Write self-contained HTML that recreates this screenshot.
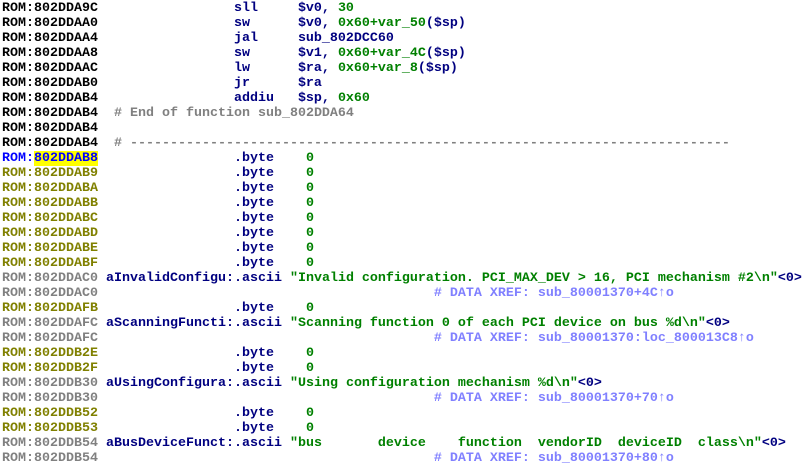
<!DOCTYPE html>
<html><head><meta charset="utf-8"><style>
html,body{margin:0;padding:0;background:#fff;width:806px;height:472px;overflow:hidden}
pre{margin:0;padding:1px 0 0 2px;font-family:"Liberation Mono","DejaVu Sans Mono",monospace;font-weight:bold;font-size:13.33px;line-height:15px;color:#000080;white-space:pre}
.k{color:#000}.b{color:#0000ff}.o{color:#808000}.g{color:#808080}.n{color:#008000}.c{color:#808080}.x{color:#8080ff}.h{background:#ffff00}
</style></head><body><pre><span class="k">ROM:802DDA9C</span>                 sll     $v0, <span class="n">30</span>
<span class="k">ROM:802DDAA0</span>                 sw      $v0, <span class="n">0x60+var_50</span>($sp)
<span class="k">ROM:802DDAA4</span>                 jal     sub_802DCC60
<span class="k">ROM:802DDAA8</span>                 sw      $v1, <span class="n">0x60+var_4C</span>($sp)
<span class="k">ROM:802DDAAC</span>                 lw      $ra, <span class="n">0x60+var_8</span>($sp)
<span class="k">ROM:802DDAB0</span>                 jr      $ra
<span class="k">ROM:802DDAB4</span>                 addiu   $sp, <span class="n">0x60</span>
<span class="k">ROM:802DDAB4</span>  <span class="c"># End of function sub_802DDA64</span>
<span class="k">ROM:802DDAB4</span>
<span class="k">ROM:802DDAB4</span>  <span class="c"># ---------------------------------------------------------------------------</span>
<span class="b">ROM:<span class="h">802DDAB8</span></span>                 .byte    <span class="n">0</span>
<span class="o">ROM:802DDAB9</span>                 .byte    <span class="n">0</span>
<span class="o">ROM:802DDABA</span>                 .byte    <span class="n">0</span>
<span class="o">ROM:802DDABB</span>                 .byte    <span class="n">0</span>
<span class="o">ROM:802DDABC</span>                 .byte    <span class="n">0</span>
<span class="o">ROM:802DDABD</span>                 .byte    <span class="n">0</span>
<span class="o">ROM:802DDABE</span>                 .byte    <span class="n">0</span>
<span class="o">ROM:802DDABF</span>                 .byte    <span class="n">0</span>
<span class="g">ROM:802DDAC0</span> aInvalidConfigu:.ascii <span class="n">"Invalid configuration. PCI_MAX_DEV &gt; 16, PCI mechanism #2\n"</span>&lt;0&gt;
<span class="g">ROM:802DDAC0</span>                                          <span class="x"># DATA XREF: sub_80001370+4C↑o</span>
<span class="o">ROM:802DDAFB</span>                 .byte    <span class="n">0</span>
<span class="g">ROM:802DDAFC</span> aScanningFuncti:.ascii <span class="n">"Scanning function 0 of each PCI device on bus %d\n"</span>&lt;0&gt;
<span class="g">ROM:802DDAFC</span>                                          <span class="x"># DATA XREF: sub_80001370:loc_800013C8↑o</span>
<span class="o">ROM:802DDB2E</span>                 .byte    <span class="n">0</span>
<span class="o">ROM:802DDB2F</span>                 .byte    <span class="n">0</span>
<span class="g">ROM:802DDB30</span> aUsingConfigura:.ascii <span class="n">"Using configuration mechanism %d\n"</span>&lt;0&gt;
<span class="g">ROM:802DDB30</span>                                          <span class="x"># DATA XREF: sub_80001370+70↑o</span>
<span class="o">ROM:802DDB52</span>                 .byte    <span class="n">0</span>
<span class="o">ROM:802DDB53</span>                 .byte    <span class="n">0</span>
<span class="g">ROM:802DDB54</span> aBusDeviceFunct:.ascii <span class="n">"bus       device    function  vendorID  deviceID  class\n"</span>&lt;0&gt;
<span class="g">ROM:802DDB54</span>                                          <span class="x"># DATA XREF: sub_80001370+80↑o</span>
</pre></body></html>
